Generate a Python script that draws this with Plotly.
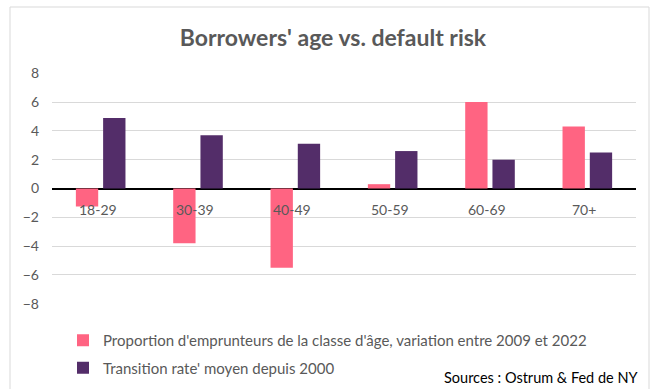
import plotly.graph_objects as go

categories = ["18-29", "30-39", "40-49", "50-59", "60-69", "70+"]
proportion = [-1.25, -3.8, -5.5, 0.3, 6.0, 4.3]
transition = [4.9, 3.7, 3.1, 2.6, 2.0, 2.5]
y_ticks = [-8, -6, -4, -2, 0, 2, 4, 6, 8]

name_prop = "Proportion d'emprunteurs de la classe d'âge, variation entre 2009 et 2022"
name_trans = "Transition rate' moyen depuis 2000"

FONT = "Lato"
GREY = "#595959"

W, H = 654, 389
L, R, T, B = 52, 18, 73, 85

fig = go.Figure()
fig.add_trace(go.Bar(x=categories, y=proportion, name=name_prop,
                     marker=dict(color="#FF6482", line=dict(width=0)),
                     legendgroup="a"))
fig.add_trace(go.Bar(x=categories, y=transition, name=name_trans,
                     marker=dict(color="#532D69", line=dict(width=0)),
                     legendgroup="b"))

for c in categories:
    fig.add_annotation(x=c, y=0, xref="x", yref="y", text=c, showarrow=False,
                       yanchor="top", yshift=-10, xshift=-3,
                       font=dict(family=FONT, size=14, color=GREY))

pw = W - L - R
ph = H - T - B


def px_x(px):
    return (px - L) / pw


def px_y(py):
    return (H - B - py) / ph


# chart frame
fig.add_shape(type="rect", xref="paper", yref="paper",
              x0=px_x(10), x1=px_x(649), y0=px_y(H + 5), y1=px_y(7),
              line=dict(color="#D9D9D9", width=1), layer="below")

fig.add_annotation(xref="paper", yref="paper",
                   x=px_x(641), y=px_y(377),
                   xanchor="right", yanchor="middle", showarrow=False,
                   text="Sources : Ostrum & Fed de NY",
                   font=dict(family=FONT, size=14.5, color="#000000"))

fig.update_layout(
    width=W, height=H,
    margin=dict(l=L, r=R, t=T, b=B, autoexpand=False),
    paper_bgcolor="white", plot_bgcolor="white",
    title=dict(text="<b>Borrowers' age vs. default risk</b>", x=333 / W,
               xref="container", xanchor="center", y=1 - 38 / H,
               yanchor="middle",
               font=dict(family=FONT, size=23, color=GREY)),
    barmode="group", bargap=0.44, bargroupgap=0.18,
    showlegend=True,
    legend=dict(orientation="v", x=px_x(63), y=px_y(324),
                xanchor="left", yanchor="top",
                traceorder="grouped", tracegroupgap=5,
                font=dict(family=FONT, size=15, color=GREY),
                bgcolor="rgba(0,0,0,0)"),
    font=dict(family=FONT, color=GREY),
)
fig.update_xaxes(showticklabels=False, showgrid=False, zeroline=False,
                 showline=False, ticks="")
fig.update_yaxes(range=[-8.02, 8.02], tickvals=y_ticks,
                 showgrid=True, gridcolor="#D9D9D9", gridwidth=1,
                 zeroline=True, zerolinecolor="#000000", zerolinewidth=1.5,
                 showline=False, ticks="", ticklabelstandoff=12,
                 tickfont=dict(family=FONT, size=14, color=GREY))

fig.write_html("out.html")
